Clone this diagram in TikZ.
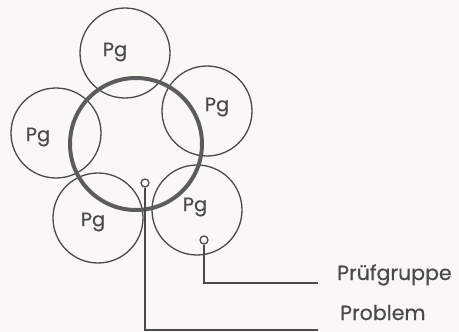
\documentclass[tikz,border=0pt]{standalone}
\usepackage{fontspec}
\setmainfont{Poppins}
\newfontfamily\heavy{Poppins}[FakeBold=0.5]
\definecolor{ink}{HTML}{4A4A4A}
\definecolor{paper}{HTML}{FAF8F4}
\begin{document}
\begin{tikzpicture}[x=1pt,y=-1pt,
  pg/.style={circle,draw=ink,line width=1.3pt,minimum size=90pt,inner sep=0pt},
  big/.style={circle,draw=ink!90,line width=4pt,minimum size=132pt,inner sep=0pt},
  lbl/.style={text=ink,font=\heavy\fontsize{19.5}{19.5}\selectfont,inner sep=0pt},
  tag/.style={text=ink,font=\heavy\fontsize{20.5}{20.5}\selectfont,inner sep=0pt,anchor=base west},
  marker/.style={circle,draw=ink,line width=1.3pt,minimum size=8pt,inner sep=0pt},
  lead/.style={draw=ink,line width=1.4pt}]
\fill[paper] (0,0) rectangle (459,332);
\useasboundingbox (0,0) rectangle (459,332);
\node[pg] (c1) at (125,53) {};
\node[pg] (c2) at (207,111) {};
\node[pg] (c3) at (56,133) {};
\node[pg] (c4) at (98,218) {};
\node[pg] (c5) at (197,210) {};
\node[big] (core) at (136,144) {};
\node[lbl] (l1) at (115,52) {Pg};
\node[lbl] (l2) at (217,107) {Pg};
\node[lbl] (l3) at (38,137) {Pg};
\node[lbl] (l4) at (93,222) {Pg};
\node[lbl] (l5) at (195,207) {Pg};
\node[marker] (mp) at (145,183) {};
\node[marker] (mg) at (204,240) {};
\coordinate (ep) at (318,330);
\coordinate (eg) at (318,283);
\node[tag] (tg) at (337,280) {Prüfgruppe};
\node[tag] (tp) at (340,320) {Problem};
\draw[lead] (mp.south) |- (ep);
\draw[lead] (mg.south) |- (eg);
\end{tikzpicture}
\end{document}
